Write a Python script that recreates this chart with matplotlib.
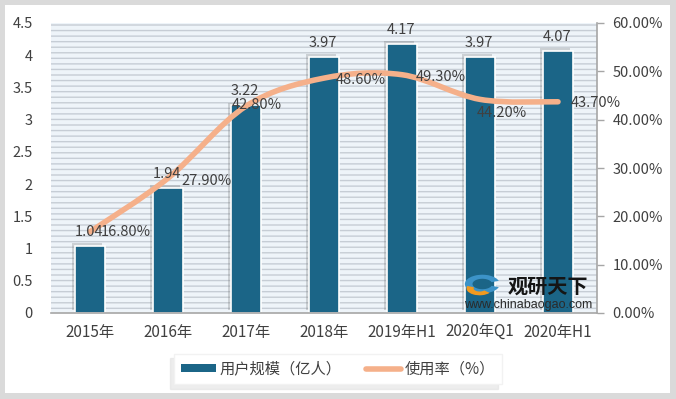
import numpy as np
import matplotlib
matplotlib.use('Agg')
import matplotlib.pyplot as plt
from matplotlib.path import Path
from matplotlib.patches import PathPatch, Rectangle, Wedge, Patch
from matplotlib.lines import Line2D
import matplotlib.patheffects as pe
from matplotlib.ticker import FuncFormatter

plt.rcParams['font.family'] = ['Noto Sans CJK SC', 'DejaVu Sans']

CATEGORIES = ['2015年', '2016年', '2017年', '2018年', '2019年H1', '2020年Q1', '2020年H1']
USERS = [1.04, 1.94, 3.22, 3.97, 4.17, 3.97, 4.07]          # 亿人
RATE = [16.80, 27.90, 42.80, 48.60, 49.30, 44.20, 43.70]     # %
LEFT_TICKS = [0, 0.5, 1, 1.5, 2, 2.5, 3, 3.5, 4, 4.5]
RIGHT_TICKS = [0, 10, 20, 30, 40, 50, 60]

BAR_COLOR = '#1B6587'
LINE_COLOR = '#F5B08A'
TEXT_COLOR = '#404040'

# pixel nudges for the rate labels (Excel placed them by hand-ish)
rate_offsets = [(11, 0), (13, -3), (-14, 1), (12, -2), (14, -2), (-3, -14), (13, -1)]

fig = plt.figure(figsize=(6.76, 3.99), dpi=100, facecolor='#DADADA')
fig.patches.append(Rectangle((5 / 676, 6 / 399), 665 / 676, 388 / 399,
                             transform=fig.transFigure, facecolor='white',
                             edgecolor='none', zorder=-10))

ax = fig.add_axes([51 / 676, 86 / 399, 546 / 676, 290 / 399])
ax.set_facecolor('#EEF4F9')
ax.add_patch(Rectangle((0, 0), 1, 1, transform=ax.transAxes, facecolor='none',
                       edgecolor='#C6CDD5', hatch='---', linewidth=0, zorder=0))

x = np.arange(len(CATEGORIES))
bars = ax.bar(x, USERS, width=0.385, color=BAR_COLOR, edgecolor='white',
              linewidth=1.2, zorder=2)
for b in bars:
    b.set_path_effects([pe.SimplePatchShadow(offset=(-2, 2), shadow_rgbFace='#666666',
                                             alpha=0.25), pe.Normal()])

ax.set_xlim(-0.5, len(CATEGORIES) - 0.5)
ax.set_ylim(0, 4.5)
ax.set_yticks(LEFT_TICKS)
ax.yaxis.set_major_formatter(FuncFormatter(lambda v, p: '%g' % v))
ax.set_xticks(x)
ax.set_xticklabels(CATEGORIES)
ax.tick_params(axis='y', length=0, pad=13, labelsize=10.5, colors=TEXT_COLOR)
ax.tick_params(axis='x', length=0, pad=8, labelsize=11, colors=TEXT_COLOR)
for s in ['left', 'top', 'right']:
    ax.spines[s].set_visible(False)
ax.spines['bottom'].set_color('#A6A6A6')
ax.spines['bottom'].set_linewidth(1.2)

ax2 = ax.twinx()
ax2.set_ylim(0, 60)
ax2.set_yticks(RIGHT_TICKS)
ax2.yaxis.set_major_formatter(FuncFormatter(lambda v, p: '%.2f%%' % v))
ax2.tick_params(axis='y', direction='out', length=5, width=1, color='#A6A6A6',
                labelsize=10.5, labelcolor=TEXT_COLOR, pad=6)
for s in ['left', 'top', 'bottom']:
    ax2.spines[s].set_visible(False)
ax2.spines['right'].set_color('#A6A6A6')
ax2.spines['right'].set_linewidth(1.2)

# smoothed line like Excel (Catmull-Rom as cubic Bezier)
pts = np.column_stack([x, RATE]).astype(float)
verts = [pts[0]]
codes = [Path.MOVETO]
n = len(pts)
for i in range(n - 1):
    p0 = pts[max(i - 1, 0)]
    p1 = pts[i]
    p2 = pts[i + 1]
    p3 = pts[min(i + 2, n - 1)]
    verts += [p1 + (p2 - p0) / 6, p2 - (p3 - p1) / 6, p2]
    codes += [Path.CURVE4] * 3
line = PathPatch(Path(verts, codes), facecolor='none', edgecolor=LINE_COLOR,
                 linewidth=4, capstyle='round', joinstyle='round', zorder=3)
ax2.add_patch(line)

# bar value labels sit above the line, so put them on ax2 using ax's data coords
for xi, v in zip(x, USERS):
    ax2.annotate('%.2f' % v, (xi, v), xycoords=ax.transData, xytext=(-1, 7),
                 textcoords='offset pixels', ha='center', va='bottom', fontsize=10.5,
                 color=TEXT_COLOR, zorder=5)

for xi, v, off in zip(x, RATE, rate_offsets):
    ax2.annotate('%.2f%%' % v, (xi, v), xytext=off, textcoords='offset pixels',
                 ha='left', va='center', fontsize=10.5, color=TEXT_COLOR, zorder=5)

# watermark
ax2.text(0.91, 0.092, '观研天下', transform=ax.transAxes, fontsize=14.5, fontweight='heavy',
         color='#151515', ha='center', va='center', zorder=6)
ax2.text(0.874, 0.026, 'www.chinabaogao.com', transform=ax.transAxes, fontsize=9,
         color='#2A2A2A', ha='center', va='center', family='Liberation Sans', zorder=6)
ax2.add_patch(Wedge((0.79, 0.1), 0.032, 20, 340, width=0.014, transform=ax.transAxes,
                    facecolor='#3C93C8', edgecolor='none', zorder=6))
ax2.add_patch(Wedge((0.785, 0.085), 0.024, 160, 320, width=0.013, transform=ax.transAxes,
                    facecolor='#F39A1E', edgecolor='none', zorder=6))

# legend
handles = [Patch(facecolor=BAR_COLOR, edgecolor='none'),
           Line2D([], [], color=LINE_COLOR, linewidth=4, solid_capstyle='round')]
labels = ['用户规模（亿人）', '使用率（%）']
leg = fig.legend(handles, labels, loc='center', bbox_to_anchor=(338 / 676, 30 / 399),
                 ncol=2, frameon=True, fontsize=11, handlelength=2.3, handleheight=0.35,
                 columnspacing=1.6, handletextpad=0.25, borderpad=0.45, fancybox=False,
                 shadow={'color': '#DDDDDD', 'alpha': 0.5, 'ox': -3, 'oy': -3})
leg.get_frame().set_edgecolor('#F2F2F2')
leg.get_frame().set_facecolor('white')
for t in leg.get_texts():
    t.set_color(TEXT_COLOR)

fig.savefig('out.png', dpi=100, facecolor=fig.get_facecolor())
